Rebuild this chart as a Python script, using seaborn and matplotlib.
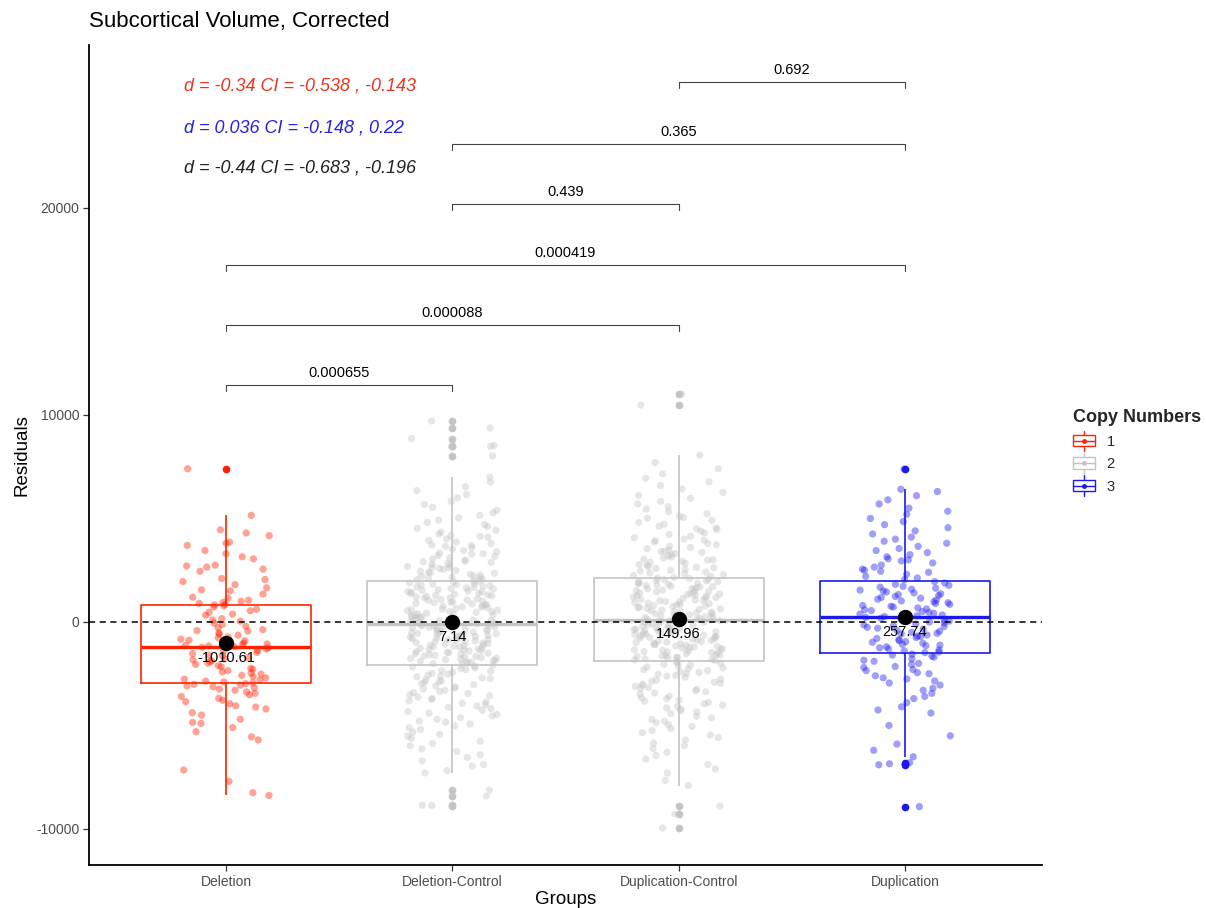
import numpy as np
import pandas as pd
import matplotlib
matplotlib.use("Agg")
import matplotlib.pyplot as plt
from matplotlib.legend_handler import HandlerBase
from matplotlib.patches import Rectangle
from matplotlib.lines import Line2D
import seaborn as sns

# ---------------- data ----------------
groups = ["Deletion", "Deletion-Control", "Duplication-Control", "Duplication"]
copy_numbers = ["1", "2", "2", "3"]

deletion = [
    7400,
    5150, 4450, 4300, 4170, 3850, 3800, 3700, 3450, 3300, 3150, 3050, 2750, 2700, 2650, 2550, 2450,
    2100, 2050, 1950, 1800, 1650, 1550, 1500, 1350, 1200, 1150, 1050, 1000, 950, 900, 850, 820,
    780, 720, 610, 540, 470, 380, 330, 160, 90, 40, -60, -130, -210, -280, -370, -420, -440, -530,
    -590, -640, -720, -760, -830, -880, -910, -980, -1010, -1060, -1090, -1130, -1160, -1190, -1220,
    -1260, -1310, -1380, -1420, -1470, -1530, -1600, -1640, -1720, -1780, -1830, -1880, -1920, -1990,
    -2050, -2110, -2160, -2240, -2290, -2350, -2410, -2470, -2520, -2580, -2640, -2700, -2760, -2810,
    -2860, -2900, -2940, -2980, -3010,
    -3050, -3090, -3130, -3180, -3240, -3300, -3380, -3450, -3520, -3600, -3690, -3780, -3850, -3950,
    -4050, -4110, -4200, -4380, -4500, -4700, -4850, -4900, -5100, -5300, -5550, -5700, -7150, -7700,
    -8250, -8380,
]

deletion_control = [
    -8870, -8850, -8410, -8120,
    -7290, -7180, -6960, -6880, -6710, -6540, -6420, -6250, -6130, -5990, -5870, -5760, -5620, -5510,
    -5430, -5320, -5190, -5110, -5020, -4930, -4840, -4790, -4700, -4630, -4540, -4470, -4410, -4330,
    -4260, -4190, -4120, -4060, -3990, -3930, -3870, -3810, -3740, -3690, -3630, -3570, -3520, -3460,
    -3410, -3350, -3300, -3240, -3190, -3140, -3090, -3030, -2980, -2930, -2880, -2840, -2790, -2740,
    -2700, -2650, -2610, -2560, -2520, -2480, -2430, -2390, -2350, -2300, -2260, -2220, -2170, -2130,
    -2090, -2050,
    -2010, -1980, -1950, -1930, -1900, -1870, -1850, -1820, -1790, -1770, -1740, -1720, -1690, -1660,
    -1640, -1610, -1590, -1560, -1530, -1510, -1480, -1460, -1430, -1400, -1380, -1350, -1330, -1300,
    -1280, -1250, -1220, -1200, -1170, -1150, -1120, -1090, -1070, -1040, -1020, -990, -960, -940,
    -910, -890, -860, -840, -810, -780, -760, -730, -710, -680, -660, -630, -600, -580, -550, -530,
    -500, -470, -450, -420, -400, -370, -350, -320, -290, -270, -240, -220, -190, -170, -150,
    -120, -90, -70, -40, -10, 20, 50, 70, 100, 130, 160, 180, 210, 240, 270, 290, 320, 350, 380, 400,
    430, 460, 490, 510, 540, 570, 600, 620, 650, 680, 710, 730, 760, 790, 820, 840, 870, 900, 930,
    950, 980, 1010, 1040, 1060, 1090, 1120, 1150, 1170, 1200, 1230, 1260, 1280, 1310, 1340, 1370,
    1390, 1420, 1450, 1480, 1500, 1530, 1560, 1590, 1610, 1640, 1670, 1700, 1720, 1750, 1780, 1810,
    1830, 1860, 1890, 1920,
    1960, 2000, 2040, 2060, 2090, 2130, 2170, 2200, 2220, 2260, 2310, 2350, 2370, 2400, 2440, 2490,
    2540, 2580, 2610, 2630, 2680, 2730, 2780, 2830, 2880, 2910, 2940, 2990, 3040, 3100, 3160, 3210,
    3270, 3300, 3330, 3390, 3450, 3520, 3580, 3650, 3700, 3720, 3790, 3860, 3940, 4010, 4090, 4130,
    4170, 4250, 4340, 4430, 4520, 4610, 4710, 4810, 4920, 5030, 5150, 5270, 5400, 5540, 5680, 5830,
    5990, 6160, 6340, 6530, 6750, 7000,
    8020, 8480, 8520, 8860, 9370, 9710,
]

duplication_control = [
    -9950, -9280, -8890,
    -7900, -7650, -7300, -7100, -6880, -6620, -6450, -6300, -6120, -5980, -5850, -5700, -5580, -5460,
    -5350, -5240, -5150, -5050, -4960, -4870, -4790, -4710, -4630, -4560, -4420, -4350, -4280, -4210,
    -4150, -4080, -4020, -3950, -3890, -3830, -3770, -3710, -3650, -3590, -3480, -3430, -3370, -3320,
    -3260, -3210, -3160, -3110, -3060, -3010, -2960, -2910, -2860, -2810, -2760, -2670, -2620, -2580,
    -2530, -2490, -2440, -2400, -2350, -2310, -2260, -2220, -2180, -2130, -2090, -2050, -2000, -1960,
    -1920,
    -1860, -1830, -1800, -1780, -1750, -1720, -1700, -1670, -1640, -1610, -1590, -1560, -1530, -1510,
    -1480, -1450, -1430, -1400, -1370, -1350, -1320, -1290, -1260, -1240, -1210, -1180, -1160, -1130,
    -1100, -1080, -1050, -1020, -990, -970, -940, -910, -890, -860, -830, -810, -780, -750, -720,
    -700, -670, -640, -620, -590, -560, -540, -510, -480, -450, -430, -400, -370, -350, -320, -290,
    -270, -240, -210, -180, -160, -130, -100, -80, -50, -20, 0, 30, 60, 80, 110,
    140, 170, 190, 220, 250, 280, 300, 330, 360, 390, 410, 440, 470, 500, 520, 550, 580, 610, 630,
    660, 690, 720, 740, 770, 800, 830, 850, 880, 910, 940, 960, 990, 1020, 1050, 1070, 1100, 1130,
    1160, 1180, 1210, 1240, 1270, 1290, 1320, 1350, 1380, 1400, 1430, 1460, 1490, 1510, 1540, 1570,
    1600, 1620, 1650, 1680, 1710, 1730, 1760, 1790, 1820, 1840, 1870, 1900, 1930, 1950, 1980, 2010,
    2040, 2060, 2090, 2120, 2150,
    2200, 2240, 2280, 2330, 2370, 2410, 2460, 2500, 2550, 2590, 2620, 2640, 2690, 2730, 2780, 2830,
    2880, 2930, 2980, 3000, 3030, 3090, 3140, 3190, 3250, 3300, 3360, 3400, 3420, 3480, 3540, 3600,
    3660, 3730, 3790, 3860, 3930, 3950, 4000, 4070, 4140, 4220, 4300, 4380, 4460, 4500, 4540, 4630,
    4720, 4810, 4910, 5010, 5050, 5110, 5220, 5330, 5450, 5570, 5700, 5830, 5970, 6110, 6260, 6420,
    6590, 6770, 6950, 7150, 7400, 7700, 8060,
    10480, 11010,
]

duplication = [
    -8920, -6900, -6850, -6800,
    -6510, -6200, -5900, -5500, -5000, -4400, -4250, -4100, -3900, -3700, -3600, -3450, -3300, -3200,
    -3050, -2950, -2850, -2750, -2700, -2600, -2500, -2450, -2350, -2300, -2200, -2150, -2050, -2000,
    -1900, -1850, -1780, -1700, -1650, -1600, -1550,
    -1480, -1450, -1400, -1350, -1300, -1250, -1200, -1150, -1120, -1080, -1020, -980, -950, -900,
    -850, -800, -750, -700, -680, -630, -580, -550, -500, -450, -400, -350, -300, -260, -220, -180,
    -140, -100, -50, 0, 40, 90, 140, 180, 220,
    260, 300, 340, 380, 420, 460, 500, 550, 590, 630, 680, 720, 760, 800, 850, 890, 930, 980, 1020,
    1060, 1100, 1150, 1190, 1230, 1280, 1320, 1360, 1400, 1450, 1500, 1540, 1580, 1630, 1680, 1720,
    1770, 1820, 1880, 1950,
    2050, 2120, 2200, 2300, 2400, 2450, 2500, 2550, 2650, 2750, 2850, 2950, 3000, 3050, 3150, 3250,
    3350, 3450, 3550, 3650, 3800, 3900, 4000, 4100, 4250, 4400, 4550, 4700, 4850, 5000, 5200, 5350,
    5500, 5700, 5900, 6100, 6300, 6410,
    7380,
]

group_means = [-1010.61, 7.14, 149.96, 257.74]
mean_labels = ["-1010.61", "7.14", "149.96", "257.74"]

comparisons = [
    ("Deletion", "Deletion-Control", "0.000655"),
    ("Deletion", "Duplication-Control", "0.000088"),
    ("Deletion", "Duplication", "0.000419"),
    ("Deletion-Control", "Duplication-Control", "0.439"),
    ("Deletion-Control", "Duplication", "0.365"),
    ("Duplication-Control", "Duplication", "0.692"),
]
bracket_heights = [11450, 14350, 17250, 20190, 23090, 26090]

effect_texts = [
    "d = -0.34 CI = -0.538 , -0.143",
    "d = 0.036 CI = -0.148 , 0.22",
    "d = -0.44 CI = -0.683 , -0.196",
]
effect_y = [25890, 23860, 21930]

# ---------------- styling ----------------
palette = {"1": "#FF2200", "2": "#C4C4C4", "3": "#1A1AF0"}
text_colors = ["#E8351F", "#2424DB", "#222222"]

sns.set_theme(style="white")
plt.rcParams["font.family"] = ["Liberation Sans", "DejaVu Sans"]

series = [deletion, deletion_control, duplication_control, duplication]
rows = []
for g, cn, vals in zip(groups, copy_numbers, series):
    for v in vals:
        rows.append((g, cn, v))
df = pd.DataFrame(rows, columns=["Groups", "Copy Numbers", "Residuals"])

fig = plt.figure(figsize=(12.06, 9.08), dpi=100)
ax = fig.add_axes([89 / 1206, 43 / 908, (1042 - 89) / 1206, (865 - 45) / 908])

sns.boxplot(
    data=df, x="Groups", y="Residuals", hue="Copy Numbers", order=groups,
    hue_order=["1", "2", "3"], palette=palette, dodge=False, fill=False,
    width=0.75, linewidth=1.2, ax=ax, legend=True,
    flierprops=dict(marker="o", markersize=4.5),
    medianprops=dict(linewidth=2.4),
    capprops=dict(visible=False),
)
for ln in ax.lines:
    if ln.get_marker() == "o":
        ln.set_markerfacecolor(ln.get_markeredgecolor())
        ln.set_zorder(4)

np.random.seed(7)
sns.stripplot(
    data=df, x="Groups", y="Residuals", hue="Copy Numbers", order=groups,
    hue_order=["1", "2", "3"], palette=palette, dodge=False, jitter=0.2,
    size=5.2, alpha=0.42, linewidth=0, ax=ax, legend=False, zorder=3,
)

ax.axhline(0, color="black", linestyle=(0, (4, 3)), linewidth=1.1, zorder=5)

sns.pointplot(
    x=groups, y=group_means, order=groups, color="black", linestyle="none",
    markers="o", markersize=9, errorbar=None, ax=ax, zorder=6,
)
for i, (m, lab) in enumerate(zip(group_means, mean_labels)):
    ax.text(i, m - 720, lab, ha="center", va="center", fontsize=10.5,
            color="black", zorder=7)

pos = {g: i for i, g in enumerate(groups)}
for (a, b, p), h in zip(comparisons, bracket_heights):
    xa, xb = pos[a], pos[b]
    ax.plot([xa, xa, xb, xb], [h - 280, h, h, h - 280], color="#444444",
            linewidth=0.8, zorder=2)
    ax.text((xa + xb) / 2, h + 250, p, ha="center", va="bottom",
            fontsize=10.5, color="black")

for t, yv, c in zip(effect_texts, effect_y, text_colors):
    ax.text(-0.185, yv, t, ha="left", va="center", fontsize=13,
            style="italic", color=c)

ax.set_xlim(-0.605, 3.605)
ax.set_ylim(-11740, 27870)
ax.set_yticks([-10000, 0, 10000, 20000])
ax.set_yticklabels(["-10000", "0", "10000", "20000"])
ax.tick_params(axis="both", which="both", length=4, width=0.9, color="#333333",
               labelsize=10, labelcolor="#4D4D4D", bottom=True, left=True, pad=3)
ax.set_xlabel("Groups", fontsize=13.5, color="black", labelpad=2)
ax.set_ylabel("Residuals", fontsize=13.5, color="black", labelpad=4)
for s in ["top", "right"]:
    ax.spines[s].set_visible(False)
for s in ["left", "bottom"]:
    ax.spines[s].set_color("black")
    ax.spines[s].set_linewidth(1.3)

fig.text(89 / 1206, 1 - 22 / 908, "Subcortical Volume, Corrected",
         fontsize=16, ha="left", va="center", color="black")


class BoxGlyph(HandlerBase):
    def create_artists(self, legend, orig_handle, xdescent, ydescent, width,
                       height, fontsize, trans):
        c = orig_handle.get_edgecolor()
        x0, y0 = -xdescent, -ydescent
        cx = x0 + width / 2
        whisk = Line2D([cx, cx], [y0 - 0.2 * height, y0 + 1.2 * height],
                       color=c, linewidth=1.0, transform=trans)
        box = Rectangle((x0, y0 + 0.1 * height), width, 0.8 * height,
                        facecolor="white", edgecolor=c, linewidth=1.0,
                        transform=trans)
        med = Line2D([x0, x0 + width], [y0 + 0.5 * height] * 2, color=c,
                     linewidth=1.0, transform=trans)
        dot = Line2D([cx], [y0 + 0.5 * height], marker="o", markersize=2.5,
                     color=c, linestyle="none", transform=trans)
        return [whisk, box, med, dot]


handles, labels = ax.get_legend_handles_labels()
ax.legend(handles[:3], labels[:3], title="Copy Numbers", loc="upper left",
          bbox_to_anchor=(1060 / 1206, 1 - 396 / 908), bbox_transform=fig.transFigure,
          frameon=False, fontsize=10.5, title_fontproperties={"weight": "bold", "size": 13},
          handlelength=1.5, handleheight=1.15, labelspacing=0.5, alignment="left",
          handler_map={h: BoxGlyph() for h in handles[:3]})

fig.savefig("out.png", dpi=100)
